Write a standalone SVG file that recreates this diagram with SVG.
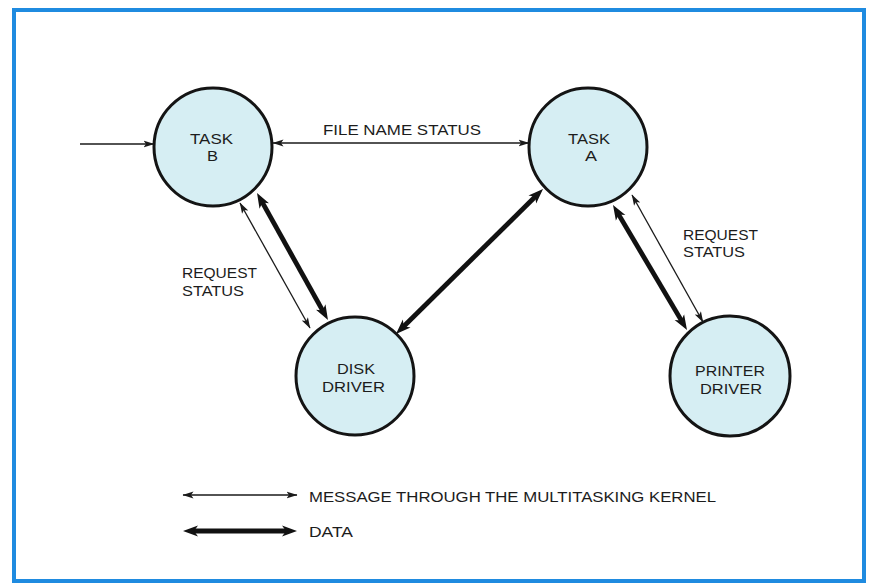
<svg xmlns="http://www.w3.org/2000/svg" width="873" height="583" viewBox="0 0 873 583">
  <defs>
    <style>
      .frame { fill: #ffffff; stroke: #1f8be0; stroke-width: 4; }
      .node circle { fill: #d6eef3; stroke: #141414; stroke-width: 3; }
      text { font-family: "Liberation Sans", Arial, sans-serif; font-size: 15.5px; fill: #1c1c1c; }
      .thin { stroke: #1a1a1a; stroke-width: 1.3; fill: none; }
      .thick { stroke: #111111; stroke-width: 4.8; fill: none; }
    </style>
    <marker id="ah-thin" markerUnits="userSpaceOnUse" markerWidth="12" markerHeight="8" refX="10.5" refY="3.5" orient="auto-start-reverse" viewBox="0 0 12 7">
      <path d="M0,0 L11,3.5 L0,7 L2.5,3.5 z" fill="#1a1a1a"/>
    </marker>
    <marker id="ah-thick" markerUnits="userSpaceOnUse" markerWidth="16" markerHeight="12" refX="5" refY="5.5" orient="auto-start-reverse" viewBox="0 0 16 11">
      <path d="M0,0 L15,5.5 L0,11 L4,5.5 z" fill="#111111"/>
    </marker>
  </defs>

  <rect class="frame" x="14" y="10" width="850" height="571"/>

  <g id="connectors">
    <line class="thin" x1="80" y1="144" x2="154" y2="144" marker-end="url(#ah-thin)"/>
    <line class="thin" x1="273" y1="143" x2="529" y2="143" marker-start="url(#ah-thin)" marker-end="url(#ah-thin)"/>
    <line class="thin" x1="240" y1="203" x2="310" y2="328" marker-start="url(#ah-thin)" marker-end="url(#ah-thin)"/>
    <line class="thick" x1="261.9" y1="201.7" x2="323.1" y2="311.3" marker-start="url(#ah-thick)" marker-end="url(#ah-thick)"/>
    <line class="thick" x1="403.1" y1="327.0" x2="535.9" y2="196.0" marker-start="url(#ah-thick)" marker-end="url(#ah-thick)"/>
    <line class="thick" x1="618.1" y1="213.6" x2="681.9" y2="321.4" marker-start="url(#ah-thick)" marker-end="url(#ah-thick)"/>
    <line class="thin" x1="632" y1="195" x2="703" y2="322" marker-start="url(#ah-thin)" marker-end="url(#ah-thin)"/>
  </g>

  <g id="task-b" class="node">
    <circle cx="213" cy="147" r="59"/>
    <text x="190" y="144" textLength="43" lengthAdjust="spacingAndGlyphs">TASK</text>
    <text x="207" y="161" textLength="11" lengthAdjust="spacingAndGlyphs">B</text>
  </g>
  <g id="task-a" class="node">
    <circle cx="588" cy="147" r="59"/>
    <text x="568" y="144" textLength="42" lengthAdjust="spacingAndGlyphs">TASK</text>
    <text x="585" y="161" textLength="12" lengthAdjust="spacingAndGlyphs">A</text>
  </g>
  <g id="disk-driver" class="node">
    <circle cx="355" cy="376" r="59"/>
    <text x="337" y="374" textLength="38" lengthAdjust="spacingAndGlyphs">DISK</text>
    <text x="322" y="392" textLength="63" lengthAdjust="spacingAndGlyphs">DRIVER</text>
  </g>
  <g id="printer-driver" class="node">
    <circle cx="730" cy="376" r="60"/>
    <text x="695" y="376" textLength="70" lengthAdjust="spacingAndGlyphs">PRINTER</text>
    <text x="700" y="394" textLength="62" lengthAdjust="spacingAndGlyphs">DRIVER</text>
  </g>

  <g id="labels">
    <text x="323" y="135" textLength="158" lengthAdjust="spacingAndGlyphs">FILE NAME STATUS</text>
    <text x="182" y="278" textLength="75" lengthAdjust="spacingAndGlyphs">REQUEST</text>
    <text x="182" y="296" textLength="62" lengthAdjust="spacingAndGlyphs">STATUS</text>
    <text x="683" y="240" textLength="75" lengthAdjust="spacingAndGlyphs">REQUEST</text>
    <text x="683" y="257" textLength="62" lengthAdjust="spacingAndGlyphs">STATUS</text>
  </g>

  <g id="legend">
    <line class="thin" x1="183" y1="495" x2="297" y2="495" marker-start="url(#ah-thin)" marker-end="url(#ah-thin)"/>
    <text x="309" y="502" textLength="407" lengthAdjust="spacingAndGlyphs">MESSAGE THROUGH THE MULTITASKING KERNEL</text>
    <line class="thick" x1="193" y1="531" x2="287" y2="531" marker-start="url(#ah-thick)" marker-end="url(#ah-thick)"/>
    <text x="309" y="537" textLength="44" lengthAdjust="spacingAndGlyphs">DATA</text>
  </g>
</svg>
